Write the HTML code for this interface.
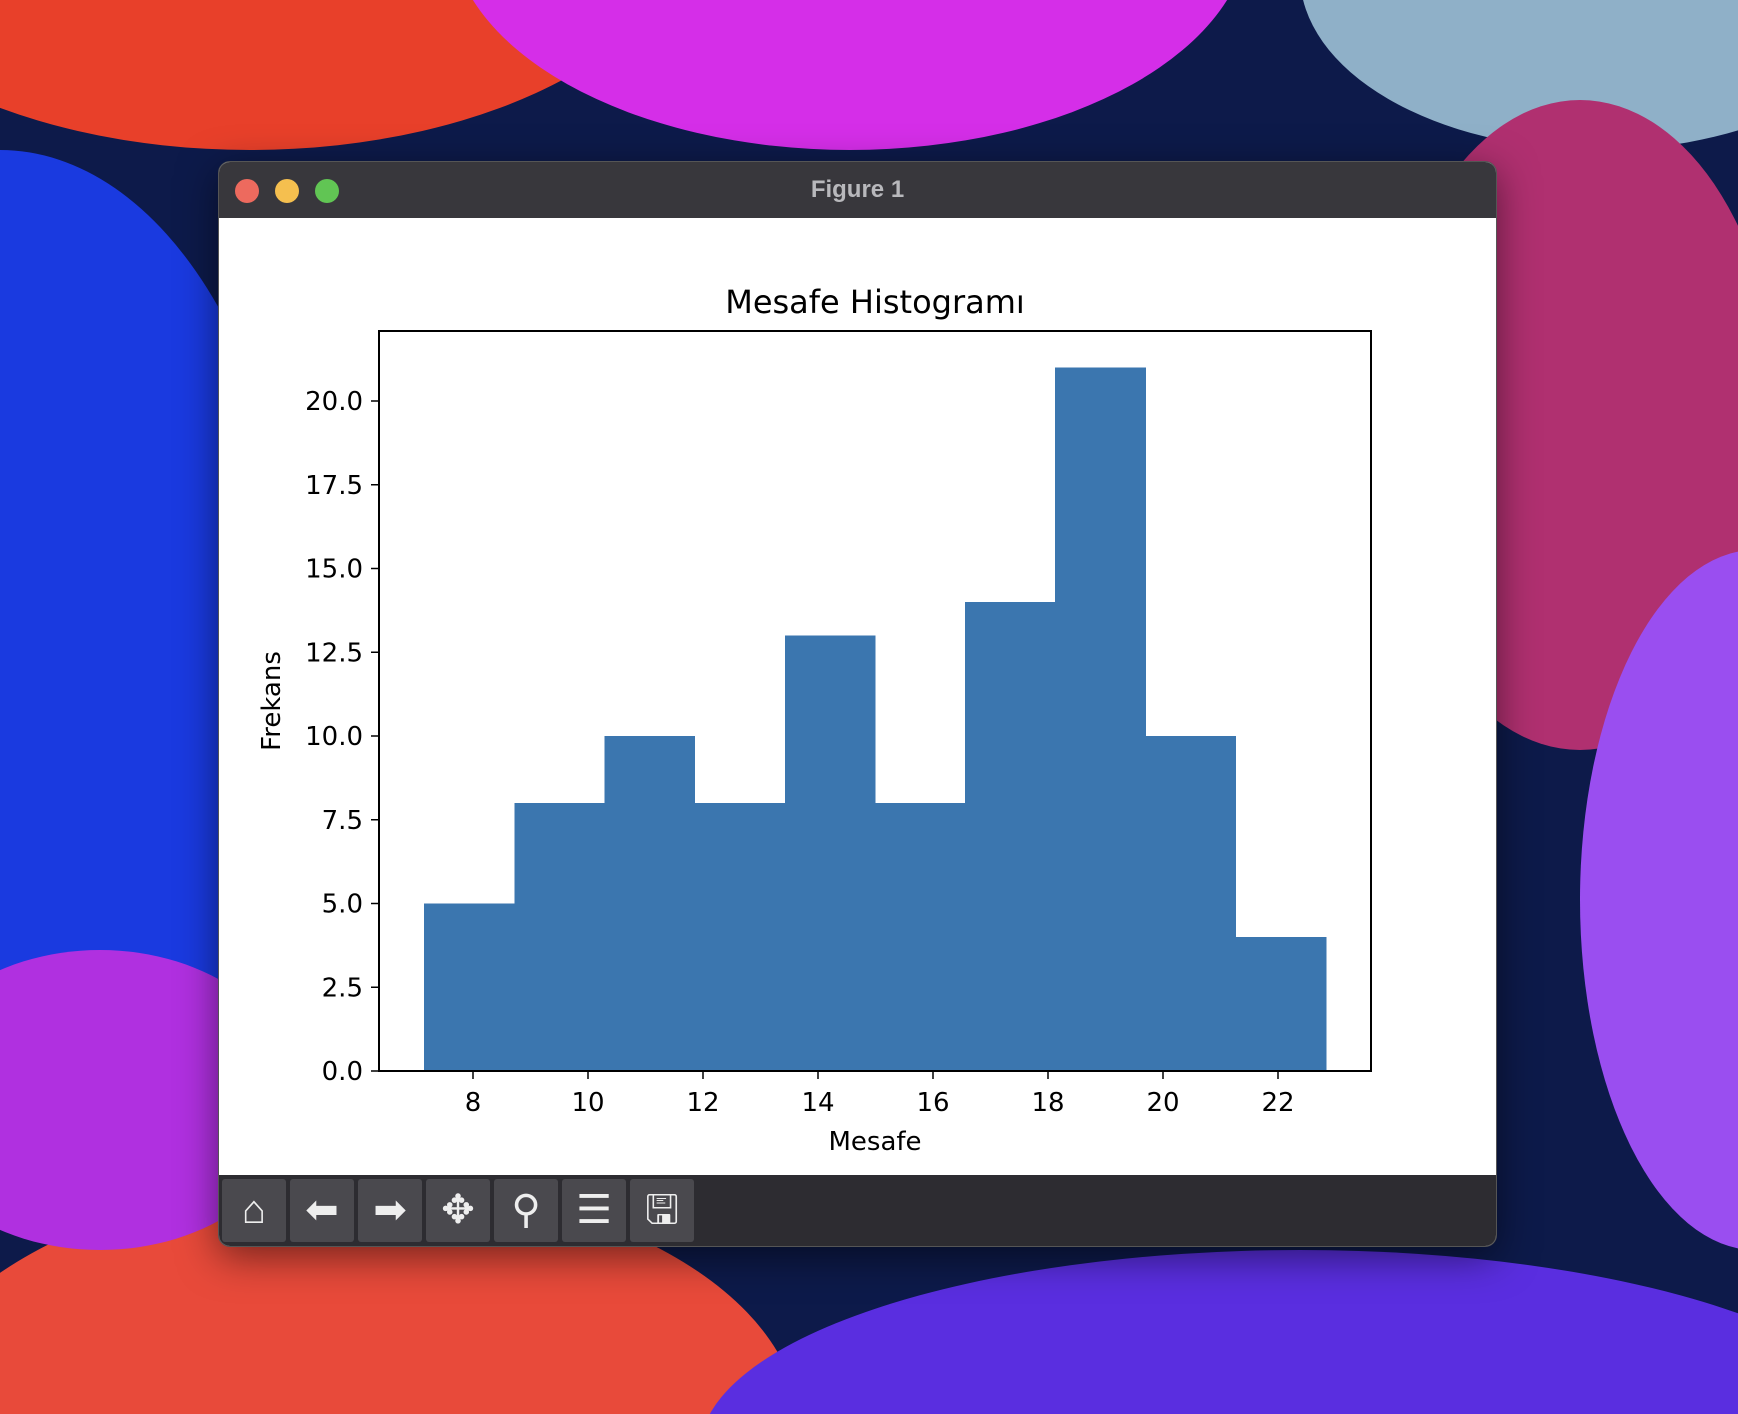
<!DOCTYPE html>
<html><head><meta charset="utf-8"><style>
html,body{margin:0;padding:0;width:1738px;height:1414px;overflow:hidden;position:relative;font-family:"Liberation Sans","DejaVu Sans",sans-serif;}
#bg{position:absolute;left:0;top:0;width:1738px;height:1414px;background:#0d1a4a;overflow:hidden}
.blob{position:absolute;border-radius:50%}
#win{position:absolute;left:218px;top:161px;width:1279px;height:1086px;border-radius:12px;overflow:hidden;background:#fff;box-shadow:0 10px 40px rgba(0,0,0,.5);border:1px solid #555;box-sizing:border-box}
#titlebar{position:absolute;left:0;top:0;width:100%;height:56px;background:#38373c;color:#b8b8bc;font-weight:bold;font-size:24px;text-align:center;line-height:56px}
.light{position:absolute;top:17px;width:24px;height:24px;border-radius:50%}
#toolbar{position:absolute;left:0;bottom:0;width:100%;height:71px;background:#2d2c31}
.tb{position:absolute;top:4px;width:64px;height:63px;background:#4a494e;border-radius:3px;color:#eee;font-size:40px;text-align:center;line-height:63px}
</style></head><body>
<div id="bg">
<div class="blob" style="left:-200px;top:-350px;width:900px;height:500px;background:#e8402a"></div>
<div class="blob" style="left:450px;top:-300px;width:800px;height:450px;background:#d52ee8"></div>
<div class="blob" style="left:1300px;top:-200px;width:600px;height:350px;background:#8fb0c8"></div>
<div class="blob" style="left:-300px;top:150px;width:600px;height:1000px;background:#1a3ae0"></div>
<div class="blob" style="left:1380px;top:100px;width:400px;height:650px;background:#b03070"></div>
<div class="blob" style="left:1580px;top:550px;width:350px;height:700px;background:#9a4ef0"></div>
<div class="blob" style="left:-100px;top:1180px;width:900px;height:500px;background:#e84a3a"></div>
<div class="blob" style="left:700px;top:1250px;width:1200px;height:400px;background:#5a2ee0"></div>
<div class="blob" style="left:-100px;top:950px;width:400px;height:300px;background:#b030e0"></div>
</div>
<div id="win">
<div id="titlebar">Figure 1
<div class="light" style="left:16px;background:#ed6a5e"></div>
<div class="light" style="left:56px;background:#f5bf4f"></div>
<div class="light" style="left:96px;background:#61c554"></div>
</div>
<svg id="chart" width="1277" height="958" style="position:absolute;left:0;top:56px"></svg>
<div id="toolbar">
<div class="tb" style="left:3px">⌂</div>
<div class="tb" style="left:71px">⬅</div>
<div class="tb" style="left:139px">➡</div>
<div class="tb" style="left:207px">✥</div>
<div class="tb" style="left:275px">⚲</div>
<div class="tb" style="left:343px">☰</div>
<div class="tb" style="left:411px">🖫</div>
</div>
</div>
<script>
const binStart = 7.15;
const binWidth = 1.568;
const counts = [5,8,10,8,13,8,14,21,10,4];
const xTicks = [8,10,12,14,16,18,20,22];
const yTicks = [0,2.5,5,7.5,10,12.5,15,17.5,20];
const yTickLabels = ["0.0","2.5","5.0","7.5","10.0","12.5","15.0","17.5","20.0"];

const svg=document.getElementById('chart');
const NS='http://www.w3.org/2000/svg';
const L=160,R=1152,T=113,B=853;
const xs=v=>254+(v-8)*57.5;
const ys=v=>B-v*33.5;
function mk(tag,attrs){const e=document.createElementNS(NS,tag);for(const k in attrs)e.setAttribute(k,attrs[k]);svg.appendChild(e);return e;}
counts.forEach((c,i)=>{
  const x0=xs(binStart+i*binWidth),x1=xs(binStart+(i+1)*binWidth);
  const r=mk('rect',{x:x0,y:ys(c),width:x1-x0+0.6,height:ys(0)-ys(c),fill:'#3b76af','shape-rendering':'crispEdges'});
  
  
});
const fr=mk('rect',{x:L,y:T,width:R-L,height:B-T,fill:'none',stroke:'#000','stroke-width':2});


xTicks.forEach(t=>{
  const x=xs(t);
  mk('line',{x1:x,x2:x,y1:B,y2:B+8,stroke:'#000','stroke-width':1.5});
  const tx=mk('text',{x:x,y:B+40,'text-anchor':'middle','font-size':26,fill:'#000','font-family':'DejaVu Sans, sans-serif'});
  tx.textContent=t;
  
  
});
yTicks.forEach((t,i)=>{
  const y=ys(t);
  mk('line',{x1:L-8,x2:L,y1:y,y2:y,stroke:'#000','stroke-width':1.5});
  const tx=mk('text',{x:L-16,y:y+9,'text-anchor':'end','font-size':26,fill:'#000','font-family':'DejaVu Sans, sans-serif'});
  tx.textContent=yTickLabels[i];
  
  
});
const title=mk('text',{x:(L+R)/2,y:95,'text-anchor':'middle','font-size':32,fill:'#000','font-family':'DejaVu Sans, sans-serif'});
title.textContent='Mesafe Histogramı';


const xl=mk('text',{x:(L+R)/2,y:932,'text-anchor':'middle','font-size':26,fill:'#000','font-family':'DejaVu Sans, sans-serif'});
xl.textContent='Mesafe';


const yl=mk('text',{x:0,y:0,'text-anchor':'middle','font-size':26,fill:'#000','font-family':'DejaVu Sans, sans-serif',transform:'translate(61,483) rotate(-90)'});
yl.textContent='Frekans';


</script>
</body></html>
